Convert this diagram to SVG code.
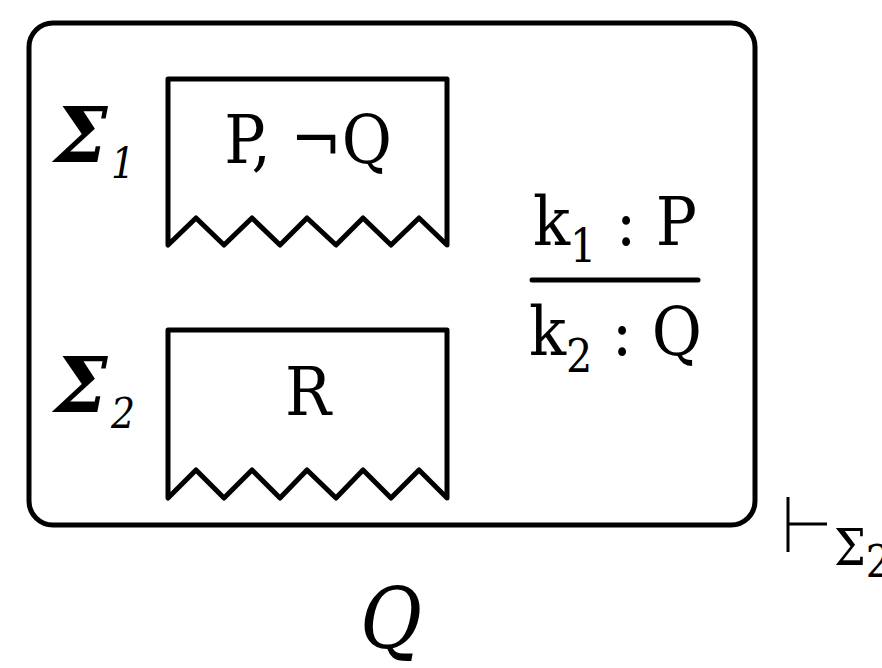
<svg xmlns="http://www.w3.org/2000/svg" width="882" height="668" viewBox="0 0 882 668">
<style>
.ln{fill:none;stroke:#000;stroke-width:5;stroke-linejoin:round;stroke-linecap:round}
.t{font-family:"DejaVu Serif Condensed","DejaVu Serif",serif;font-stretch:condensed;fill:#000}
.sg{font-family:"DejaVu Serif",serif;font-weight:bold;font-style:italic;font-size:76px;fill:#000}
.sub{font-family:"DejaVu Serif Condensed","DejaVu Serif",serif;font-style:italic;font-size:42px;fill:#000}
</style>
<rect width="882" height="668" fill="#fff"/>
<g id="context">
<rect class="ln" x="29" y="23" width="726" height="502" rx="24"/>
</g>
<g id="sigma1">
<text class="sg" x="54" y="162">Σ</text>
<text class="sub" x="111" y="178">1</text>
<path class="ln" d="M168,245 V79 H447 V245 L419,218 L391,245 L363,218 L336,245 L307,218 L280,245 L252,218 L224,245 L196,218 Z"/>
<text class="t" x="308" y="163" font-size="68" text-anchor="middle">P, ¬Q</text>
</g>
<g id="sigma2">
<text class="sg" x="54" y="412">Σ</text>
<text class="sub" x="111" y="428">2</text>
<path class="ln" d="M168,498 V330 H447 V498 L419,470 L391,498 L363,470 L336,498 L307,470 L280,498 L252,470 L224,498 L196,470 Z"/>
<text class="t" x="308" y="415" font-size="68" text-anchor="middle">R</text>
</g>
<g id="rule">
<text class="t" x="533" y="245" font-size="68">k<tspan font-size="46" dy="17">1</tspan><tspan dy="-17"> : P</tspan></text>
<line class="ln" x1="532" y1="280" x2="698" y2="280" stroke-linecap="butt"/>
<text class="t" x="529" y="355" font-size="68">k<tspan font-size="46" dy="17">2</tspan><tspan dy="-17"> : Q</tspan></text>
</g>
<g id="turnstile">
<path d="M788,497 V552 M788,524 H827" fill="none" stroke="#000" stroke-width="3"/>
<text class="t" x="834" y="565" font-size="50">Σ<tspan font-size="44" dy="12">2</tspan></text>
</g>
<g id="goal">
<text class="t" x="360" y="648" font-size="84" font-style="italic">Q</text>
</g>
</svg>
